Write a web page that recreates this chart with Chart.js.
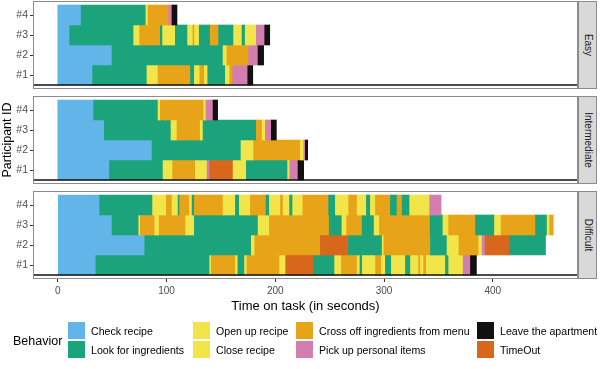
<!DOCTYPE html>
<html lang="en">
<head>
<meta charset="UTF-8">
<title>Behavior timeline</title>
<script src="https://cdn.jsdelivr.net/npm/chart.js@4.4.1/dist/chart.umd.min.js"></script>
<style>
  body { margin: 0; background: #fff; font-family: "Liberation Sans", Arial, sans-serif; }
  #wrap { position: relative; width: 600px; height: 369px; overflow: hidden; }
  .panel { position: absolute; left: 0; width: 578px; }
  .strip { position: absolute; left: 578px; width: 19px; height: 88px; background: #d9d9d9;
           border: 1px solid #8c8c8c; box-sizing: border-box; }
  .strip span { position: absolute; left: 50%; top: 50%; font-size: 10px; color: #1a1a1a;
                white-space: nowrap; transform: translate(-50%, -50%) rotate(90deg); }
  #ylab { position: absolute; left: 7px; top: 140px; font-size: 12.5px; color: #000;
          white-space: nowrap; transform: translate(-50%, -50%) rotate(-90deg); }
  #legend { position: absolute; left: 0; top: 0; width: 600px; height: 369px; }
  .ltitle { position: absolute; left: 13px; top: 341px; font-size: 12.5px; transform: translateY(-50%); }
  .key { position: absolute; width: 17px; height: 17px; }
  .ltext { position: absolute; font-size: 10.6px; color: #000; white-space: nowrap; transform: translateY(-50%); }
</style>
</head>
<body>
<div id="wrap">
  <div class="panel" style="top:1px;height:88px"><canvas id="easy"></canvas></div>
  <div class="panel" style="top:96px;height:88px"><canvas id="intermediate"></canvas></div>
  <div class="panel" style="top:191px;height:126px"><canvas id="difficult"></canvas></div>
  <div class="strip" style="top:1px"><span>Easy</span></div>
  <div class="strip" style="top:96px"><span>Intermediate</span></div>
  <div class="strip" style="top:191px"><span>Difficult</span></div>
  <div id="ylab">Participant ID</div>
  <div id="legend"></div>
</div>

<script>
  // behaviours, in legend order (column by column)
  const behaviorCodes = ['C', 'L', 'O', 'X', 'F', 'P', 'A', 'T'];
  const behaviorNames = ['Check recipe', 'Look for ingredients', 'Open up recipe', 'Close recipe',
    'Cross off ingredients from menu', 'Pick up personal items', 'Leave the apartment', 'TimeOut'];
  const behaviorColors = ['#62b5e8', '#1ba47c', '#f1e54a', '#f1e54a', '#e8a418', '#d27fb0', '#111111', '#d8661b'];

  const rowLabels = ['#1', '#2', '#3', '#4'];
  const xTicks = [0, 100, 200, 300, 400];
  const xMin = -22.8, xMax = 478.4;
  const baseline = 0.5;

  // each row: boundaries (seconds) and the behaviour of each segment between them
  const easyP1Times = [0, 32, 82, 92.2, 122, 125.6, 130.6, 134.9, 137.9, 154.1, 158.1, 160.9, 174.7, 179.3];
  const easyP1Acts = ['C', 'L', 'O', 'F', 'L', 'O', 'F', 'X', 'L', 'O', 'F', 'P', 'A'];
  const easyP2Times = [0, 49.9, 152, 155.6, 175.5, 184.1, 189.3];
  const easyP2Acts = ['C', 'L', 'O', 'F', 'P', 'A'];
  const easyP3Times = [0, 10.9, 69.8, 75.3, 94.3, 96.4, 108.1, 119.4, 124.3, 125.8, 130.1, 140.2, 147.9, 161.7, 169.4, 172.4, 182.6, 190.3, 194.9];
  const easyP3Acts = ['C', 'L', 'O', 'F', 'L', 'X', 'L', 'O', 'F', 'X', 'L', 'F', 'L', 'X', 'L', 'X', 'P', 'A'];
  const easyP4Times = [0, 21.5, 81, 83, 102, 105, 109.6];
  const easyP4Acts = ['C', 'L', 'O', 'F', 'P', 'A'];

  const interP1Times = [0, 47.5, 96.8, 105.6, 126.5, 137.3, 139.7, 161.2, 173.4, 211.4, 213.3, 220.9, 226.1];
  const interP1Acts = ['C', 'L', 'O', 'F', 'X', 'P', 'T', 'X', 'L', 'X', 'P', 'A'];
  const interP2Times = [0, 86.7, 168.5, 180.1, 223.1, 226.2, 227.7, 229.8];
  const interP2Acts = ['C', 'L', 'O', 'F', 'X', 'P', 'A'];
  const interP3Times = [0, 42.8, 104.1, 109.6, 131, 133.6, 182.6, 187.9, 190.9, 196.4, 201];
  const interP3Acts = ['C', 'L', 'O', 'F', 'X', 'L', 'F', 'X', 'P', 'A'];
  const interP4Times = [0, 32.9, 92.2, 94.3, 134.2, 136.3, 142.8, 147];
  const interP4Acts = ['C', 'L', 'O', 'F', 'X', 'P', 'A'];

  const diffP1Times = [0, 35, 139.7, 141.2, 163.3, 165.6, 171.8, 173.9, 204, 209.6, 235, 254.6, 260.8, 275.3, 277.9, 280.1, 292.2, 297.6, 301.3, 306.8, 319.7, 324.4, 331.9, 333.5, 336.5, 339, 356.5, 359.5, 372.8, 379.5, 385];
  const diffP1Acts = ['C', 'L', 'O', 'F', 'X', 'L', 'O', 'F', 'X', 'T', 'L', 'O', 'F', 'X', 'L', 'O', 'F', 'X', 'L', 'X', 'L', 'O', 'F', 'O', 'F', 'X', 'L', 'X', 'P', 'A'];
  const diffP2Times = [0, 80, 178, 181.2, 241.5, 267.3, 298.3, 299.9, 342.7, 358, 368.9, 387.1, 390.2, 393, 415.6, 448.5];
  const diffP2Acts = ['C', 'L', 'O', 'F', 'T', 'L', 'O', 'F', 'L', 'O', 'F', 'X', 'P', 'T', 'L'];
  const diffP3Times = [0, 49.9, 74.5, 75.9, 89.2, 93.2, 117.6, 125.6, 184.2, 194.6, 249.6, 261.3, 265.6, 279.9, 290.9, 295.8, 342.4, 354.2, 359.5, 384.1, 401.6, 407.7, 439.3, 450, 452.4, 455.6];
  const diffP3Acts = ['C', 'L', 'O', 'F', 'O', 'F', 'X', 'L', 'O', 'F', 'L', 'O', 'F', 'L', 'O', 'F', 'L', 'O', 'F', 'L', 'O', 'F', 'L', 'O', 'F'];
  const diffP4Times = [0, 38.5, 87.2, 99.8, 105.1, 110.6, 112.1, 121, 123.5, 125.6, 152, 163.3, 167, 177.1, 191.5, 194.6, 204.7, 207.2, 213.2, 216, 225.4, 249.1, 255.3, 267.5, 275.3, 283.8, 287.5, 292.1, 305.9, 312, 316.7, 323.6, 342, 352.5];
  const diffP4Acts = ['C', 'L', 'O', 'F', 'X', 'L', 'F', 'X', 'L', 'F', 'X', 'L', 'O', 'F', 'L', 'O', 'F', 'X', 'L', 'O', 'F', 'L', 'O', 'F', 'X', 'L', 'O', 'F', 'L', 'F', 'L', 'X', 'P'];

  Chart.defaults.font.family = '"Liberation Sans", Arial, sans-serif';

  const colorOf = {};
  behaviorCodes.forEach((c, i) => colorOf[c] = behaviorColors[i]);

  // frame round the panel + the black line under participant #1
  const panelFrame = {
    id: 'panelFrame',
    afterDatasetsDraw(chart) {
      const { ctx, chartArea: a } = chart;
      const yb = chart.scales.y.getPixelForValue(baseline);
      ctx.save();
      ctx.strokeStyle = '#111';
      ctx.lineWidth = 1.6;
      ctx.beginPath();
      ctx.moveTo(a.left, yb);
      ctx.lineTo(a.right, yb);
      ctx.stroke();
      ctx.strokeStyle = '#8c8c8c';
      ctx.lineWidth = 1;
      ctx.strokeRect(a.left + 0.5, a.top + 0.5, a.width - 1, a.height - 1);
      ctx.restore();
    }
  };

  // no extra room for edge labels, the panel fills its box
  function noPad(s) {
    s.paddingTop = 0;
    s.paddingBottom = 0;
    s.paddingLeft = 0;
    s.paddingRight = 0;
  }

  function makePanel(id, rows, showX) {
    const data = [];
    rows.forEach((row, i) => {
      for (let k = 0; k < row[1].length; k++) {
        data.push({ y: i + 1, x: [row[0][k], row[0][k + 1]], b: row[1][k] });
      }
    });
    const canvas = document.getElementById(id);
    const box = canvas.parentNode;
    canvas.width = 578;
    canvas.height = box.offsetHeight;

    return new Chart(canvas, {
      type: 'bar',
      data: {
        datasets: [{
          data: data,
          backgroundColor: ctx => colorOf[ctx.raw.b],
          borderWidth: 0,
          barPercentage: 1,
          categoryPercentage: 1
        }]
      },
      options: {
        indexAxis: 'y',
        responsive: false,
        animation: false,
        events: [],
        layout: { padding: 0 },
        plugins: { legend: { display: false }, tooltip: { enabled: false } },
        scales: {
          x: {
            type: 'linear',
            min: xMin,
            max: xMax,
            display: showX,
            afterBuildTicks: s => { s.ticks = xTicks.map(v => ({ value: v })); },
            afterFit: s => { noPad(s); if (showX) s.height = 38; },
            grid: { drawOnChartArea: false, tickLength: 3, color: '#333' },
            border: { display: false },
            ticks: { color: '#4d4d4d', font: { size: 10 }, padding: 3 },
            title: { display: true, text: 'Time on task (in seconds)', color: '#000',
                     font: { size: 13 }, padding: { top: 2, bottom: 3 } }
          },
          y: {
            type: 'linear',
            min: 0.3,
            max: 4.7,
            offset: false,
            afterBuildTicks: s => { s.ticks = rowLabels.map((l, i) => ({ value: i + 1 })); },
            afterFit: s => { noPad(s); s.width = 33; },
            grid: { offset: false, drawOnChartArea: false, tickLength: 3, color: '#333' },
            border: { display: false },
            ticks: { color: '#4d4d4d', font: { size: 10.5 }, padding: 2,
                     callback: v => rowLabels[v - 1] }
          }
        }
      },
      plugins: [panelFrame]
    });
  }

  makePanel('easy', [[easyP1Times, easyP1Acts], [easyP2Times, easyP2Acts], [easyP3Times, easyP3Acts], [easyP4Times, easyP4Acts]], false);
  makePanel('intermediate', [[interP1Times, interP1Acts], [interP2Times, interP2Acts], [interP3Times, interP3Acts], [interP4Times, interP4Acts]], false);
  makePanel('difficult', [[diffP1Times, diffP1Acts], [diffP2Times, diffP2Acts], [diffP3Times, diffP3Acts], [diffP4Times, diffP4Acts]], true);

  // legend: 4 columns of 2 keys
  const legend = document.getElementById('legend');
  const colX = [68, 193, 296, 477];
  const rowY = [322, 341];
  legend.innerHTML = '<div class="ltitle">Behavior</div>';
  behaviorNames.forEach((name, i) => {
    const x = colX[Math.floor(i / 2)];
    const y = rowY[i % 2];
    legend.innerHTML += `<div class="key" style="left:${x}px;top:${y}px;background:${behaviorColors[i]}"></div>` +
      `<div class="ltext" style="left:${x + 23}px;top:${y + 9}px">${name}</div>`;
  });
</script>
</body>
</html>
